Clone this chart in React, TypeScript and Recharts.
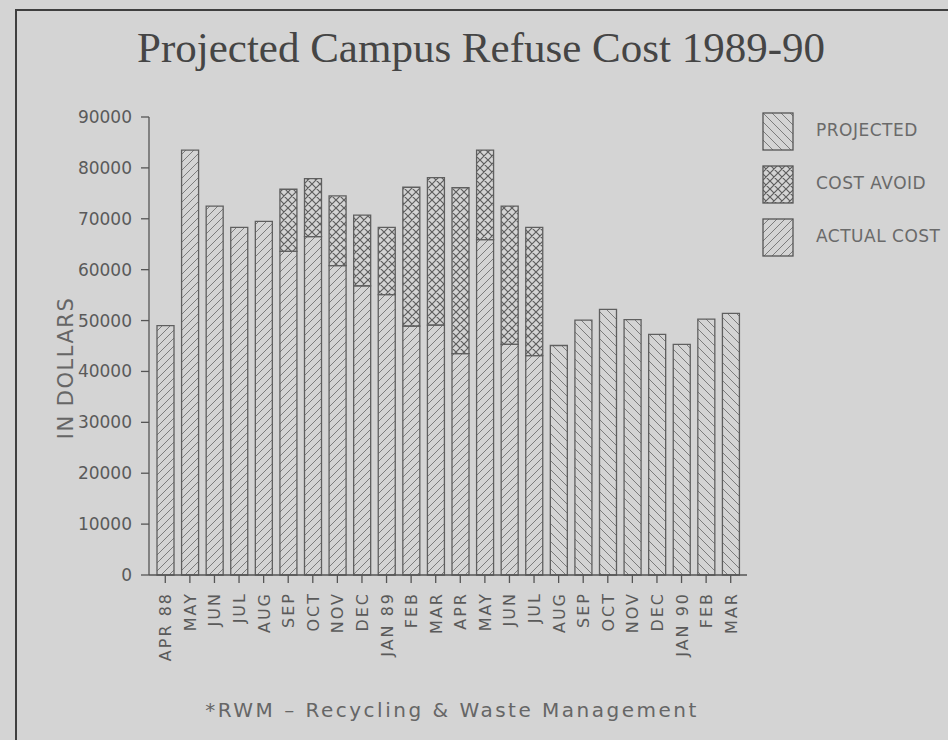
import { BarChart, Bar, XAxis, YAxis } from 'recharts';

const months = ['APR 88', 'MAY', 'JUN', 'JUL', 'AUG', 'SEP', 'OCT', 'NOV', 'DEC', 'JAN 89', 'FEB', 'MAR', 'APR', 'MAY', 'JUN', 'JUL', 'AUG', 'SEP', 'OCT', 'NOV', 'DEC', 'JAN 90', 'FEB', 'MAR'];
const actualCost = [49000, 83500, 72500, 68300, 69500, 63600, 66500, 60800, 56800, 55100, 48900, 49100, 43500, 65900, 45300, 43100, 0, 0, 0, 0, 0, 0, 0, 0];
const costAvoid = [0, 0, 0, 0, 0, 12200, 11400, 13700, 13900, 13200, 27300, 29000, 32600, 17600, 27200, 25200, 0, 0, 0, 0, 0, 0, 0, 0];
const projected = [0, 0, 0, 0, 0, 0, 0, 0, 0, 0, 0, 0, 0, 0, 0, 0, 45100, 50100, 52200, 50200, 47300, 45300, 50300, 51400];
const yTicks = [0, 10000, 20000, 30000, 40000, 50000, 60000, 70000, 80000, 90000];
const legendItems = [
  { label: 'PROJECTED', fill: 'url(#hatchProjected)' },
  { label: 'COST AVOID', fill: 'url(#hatchCross)' },
  { label: 'ACTUAL COST', fill: 'url(#hatchActual)' },
];

const data = months.map((m, i) => ({
  idx: i,
  month: m,
  actual: actualCost[i],
  avoid: costAvoid[i],
  projected: projected[i],
}));

const plotter = '"DejaVu Sans", sans-serif';
const ink = '#5a5a5a';

function MonthTick(props: any) {
  const { x, y, payload } = props;
  const label = months[payload.value] ?? '';
  return (
    <text
      x={x + 6}
      y={y}
      transform={`rotate(-90, ${x + 6}, ${y})`}
      textAnchor="end"
      fill={ink}
      fontSize={16}
      fontFamily={plotter}
      letterSpacing={2}
    >
      {label}
    </text>
  );
}

function Patterns() {
  return (
    <svg width={0} height={0} style={{ position: 'absolute' }}>
      <defs>
        <pattern id="hatchActual" patternUnits="userSpaceOnUse" width={8} height={8}>
          <path d="M-2,2 L2,-2 M0,8 L8,0 M6,10 L10,6" stroke="#7c7c7c" strokeWidth={1} />
        </pattern>
        <pattern id="hatchProjected" patternUnits="userSpaceOnUse" width={9} height={9}>
          <path d="M-2,7 L2,11 M0,0 L9,9 M7,-2 L11,2" stroke="#7c7c7c" strokeWidth={1} />
        </pattern>
        <pattern id="hatchCross" patternUnits="userSpaceOnUse" width={8} height={8}>
          <path
            d="M-2,2 L2,-2 M0,8 L8,0 M6,10 L10,6 M-2,6 L2,10 M0,0 L8,8 M6,-2 L10,2"
            stroke="#5e5e5e"
            strokeWidth={1.2}
          />
        </pattern>
      </defs>
    </svg>
  );
}

function LegendBox() {
  return (
    <div style={{ position: 'absolute', left: 762, top: 112 }}>
      {legendItems.map((item, i) => (
        <div key={item.label} style={{ position: 'absolute', left: 0, top: i * 53, width: 190, height: 38 }}>
          <svg width={32} height={39} style={{ position: 'absolute', left: 0, top: 0 }}>
            <rect x={1} y={1} width={30} height={37} fill={item.fill} stroke="#555" strokeWidth={1.3} />
          </svg>
          <span
            style={{
              position: 'absolute',
              left: 54,
              top: 8,
              fontFamily: plotter,
              fontSize: 17,
              letterSpacing: 0.5,
              color: '#6a6a6a',
              whiteSpace: 'nowrap',
            }}
          >
            {item.label}
          </span>
        </div>
      ))}
    </div>
  );
}

export default function App() {
  return (
    <div
      style={{
        position: 'absolute',
        left: 0,
        top: 0,
        width: 948,
        height: 740,
        background: '#d4d4d4',
        overflow: 'hidden',
      }}
    >
      <Patterns />
      <div
        style={{
          position: 'absolute',
          left: 15,
          top: 9,
          width: 980,
          height: 780,
          border: '2px solid #3f3f3f',
        }}
      />
      <div
        style={{
          position: 'absolute',
          left: 0,
          width: 962,
          top: 23,
          textAlign: 'center',
          fontFamily: '"Liberation Serif", serif',
          fontSize: 43,
          color: '#454545',
          lineHeight: '50px',
        }}
      >
        Projected Campus Refuse Cost 1989-90
      </div>
      <div
        style={{
          position: 'absolute',
          left: 66,
          top: 368,
          transform: 'translate(-50%, -50%) rotate(-90deg)',
          fontFamily: plotter,
          fontSize: 21,
          letterSpacing: 1.5,
          color: '#666',
          whiteSpace: 'nowrap',
        }}
      >
        IN DOLLARS
      </div>
      <div style={{ position: 'absolute', left: 0, top: 0 }}>
        <BarChart
          width={948}
          height={740}
          data={data}
          margin={{ top: 117, right: 201, bottom: 75, left: 0 }}
          barSize={17}
        >
          <XAxis
            dataKey="idx"
            type="category"
            interval={0}
            height={90}
            tickSize={8}
            tickMargin={9}
            padding={{ left: 4, right: 4 }}
            axisLine={{ stroke: '#555', strokeWidth: 1.3 }}
            tickLine={{ stroke: '#555', strokeWidth: 1.3 }}
            tick={<MonthTick />}
          />
          <YAxis
            width={149}
            domain={[0, 90000]}
            ticks={yTicks}
            interval={0}
            tickSize={8}
            tickMargin={9}
            axisLine={{ stroke: '#555', strokeWidth: 1.3 }}
            tickLine={{ stroke: '#555', strokeWidth: 1.3 }}
            tick={{ fill: ink, fontSize: 17, fontFamily: plotter }}
          />
          <Bar dataKey="actual" stackId="a" fill="url(#hatchActual)" stroke="#5f5f5f" strokeWidth={1.3} isAnimationActive={false} />
          <Bar dataKey="avoid" stackId="a" fill="url(#hatchCross)" stroke="#5f5f5f" strokeWidth={1.3} isAnimationActive={false} />
          <Bar dataKey="projected" stackId="a" fill="url(#hatchProjected)" stroke="#5f5f5f" strokeWidth={1.3} isAnimationActive={false} />
        </BarChart>
      </div>
      <LegendBox />
      <div
        style={{
          position: 'absolute',
          left: 0,
          width: 904,
          top: 698,
          textAlign: 'center',
          fontFamily: plotter,
          fontSize: 20,
          letterSpacing: 2.5,
          color: '#666',
          whiteSpace: 'pre',
        }}
      >
        *RWM – Recycling &amp; Waste Management
      </div>
    </div>
  );
}
